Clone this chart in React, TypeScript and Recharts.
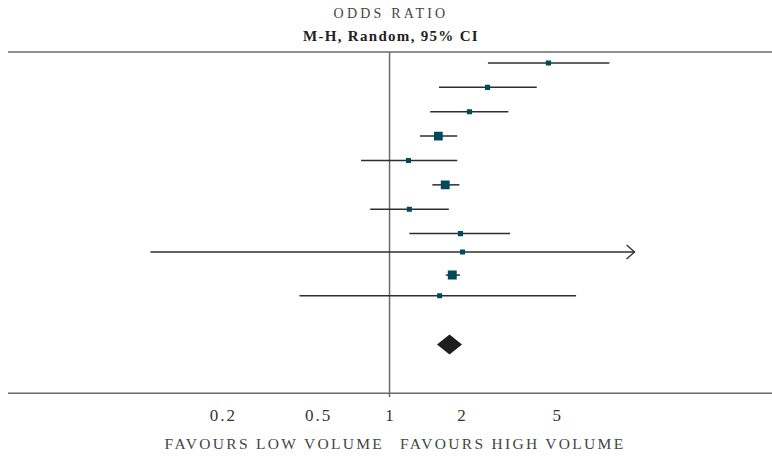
import React from 'react';
import {
  ScatterChart,
  Scatter,
  XAxis,
  YAxis,
  ZAxis,
  ReferenceLine,
  ReferenceArea,
} from 'recharts';

// Per-study odds ratios with 95% CI (M-H, random effects) and weights (%)
const oddsRatio = [4.62, 2.57, 2.16, 1.6, 1.2, 1.71, 1.21, 1.98, 2.02, 1.83, 1.62];
const ciLower = [2.58, 1.61, 1.48, 1.34, 0.76, 1.51, 0.83, 1.21, 0.1, 1.72, 0.42];
const ciUpper = [8.31, 4.13, 3.14, 1.92, 1.92, 1.96, 1.77, 3.19, 40.8, 1.97, 6.03];
const weight = [5.3, 5.4, 5.5, 18.9, 5.2, 19.3, 5.3, 5.4, 5.0, 19.6, 5.1];
// Vertical slot of each study row on the plot
const rowSlot = [0.45, 1.45, 2.45, 3.45, 4.45, 5.45, 6.45, 7.45, 8.2, 9.15, 10.0];

// Pooled estimate
const pooledOr = 1.78;
const pooledLower = 1.58;
const pooledUpper = 2.01;
const pooledSlot = 12.0;

const xTicks = [0.2, 0.5, 1, 2, 5];
// CI whiskers are truncated to this range; overflow gets an arrow
const ciLimits = [0.1, 10];

const FONT = "'Liberation Serif', 'Times New Roman', serif";
const LINE = '#2e2e2e';
const AXIS = '#6b6b6b';
const SQUARE = '#004b5a';

const rows = oddsRatio.map((or, i) => ({
  or,
  lower: ciLower[i],
  upper: ciUpper[i],
  w: weight[i],
  row: rowSlot[i],
}));

const AxisTick = (props: any) => {
  const { x, y, payload } = props;
  return (
    <text
      x={x + 1}
      y={y + 28}
      textAnchor="middle"
      fontFamily={FONT}
      fontSize={17}
      letterSpacing={2}
      fill="#333"
    >
      {payload.value}
    </text>
  );
};

const makeWhisker = (overLeft: boolean, overRight: boolean) => (props: any) => {
  const { x1, y1, x2, y2 } = props;
  const tip = 6;
  const l = overLeft ? x1 - tip : x1;
  const r = overRight ? x2 + tip : x2;
  return (
    <g>
      <line x1={l} y1={y1} x2={r} y2={y2} stroke={LINE} strokeWidth={1.5} />
      {overRight && (
        <polyline
          points={`${r - 8},${y2 - 7} ${r},${y2} ${r - 8},${y2 + 7}`}
          fill="none"
          stroke={LINE}
          strokeWidth={1.3}
        />
      )}
      {overLeft && (
        <polyline
          points={`${l + 8},${y1 - 7} ${l},${y1} ${l + 8},${y1 + 7}`}
          fill="none"
          stroke={LINE}
          strokeWidth={1.3}
        />
      )}
    </g>
  );
};

// Pooled-effect diamond spanning the pooled CI, apex at the pooled estimate
const Diamond = (props: any) => {
  const { x, y, width, height } = props;
  const cx = x + width / 2;
  const cy = y + height / 2;
  return (
    <polygon
      points={`${x},${cy} ${cx},${y} ${x + width},${cy} ${cx},${y + height}`}
      fill="#1e1e1e"
    />
  );
};

export default function App() {
  return (
    <div style={{ position: 'absolute', left: 0, top: 0, width: 772, height: 456 }}>
      <svg
        width={772}
        height={60}
        style={{ position: 'absolute', left: 0, top: 0 }}
      >
        <text
          x={391}
          y={18}
          textAnchor="middle"
          fontFamily={FONT}
          fontSize={14}
          letterSpacing={3.2}
          fill="#444"
        >
          ODDS RATIO
        </text>
        <text
          x={391}
          y={41}
          textAnchor="middle"
          fontFamily={FONT}
          fontSize={15}
          fontWeight="bold"
          letterSpacing={1.3}
          fill="#222"
        >
          M-H, Random, 95% CI
        </text>
      </svg>
      <div style={{ position: 'absolute', left: 0, top: 0 }}>
        <ScatterChart
          width={772}
          height={456}
          margin={{ top: 52, right: 0, bottom: 12.7, left: 8 }}
        >
          <XAxis
            type="number"
            dataKey="or"
            scale="log"
            domain={[0.02535, 39.8]}
            allowDataOverflow
            ticks={xTicks}
            interval={0}
            height={50}
            tickLine={false}
            tickSize={0}
            tickMargin={0}
            axisLine={{ stroke: AXIS, strokeWidth: 1.5 }}
            tick={<AxisTick />}
          />
          <YAxis type="number" dataKey="row" domain={[0, 14]} reversed hide allowDataOverflow />
          <ZAxis type="number" dataKey="w" domain={[5, 20]} range={[25, 81]} />
          <ReferenceLine y={0} stroke={AXIS} strokeWidth={1.5} />
          <ReferenceLine
            segment={[
              { x: 1, y: 0 },
              { x: 1, y: 14.15 },
            ]}
            stroke={AXIS}
            strokeWidth={1.5}
            ifOverflow="visible"
          />
          {rows.map((r, i) => {
            const lo = Math.max(r.lower, ciLimits[0]);
            const hi = Math.min(r.upper, ciLimits[1]);
            return (
              <ReferenceLine
                key={i}
                segment={[
                  { x: lo, y: r.row },
                  { x: hi, y: r.row },
                ]}
                ifOverflow="visible"
                shape={makeWhisker(r.lower < ciLimits[0], r.upper > ciLimits[1])}
              />
            );
          })}
          <ReferenceArea
            x1={pooledLower}
            x2={pooledUpper}
            y1={pooledSlot - 0.41}
            y2={pooledSlot + 0.41}
            ifOverflow="visible"
            shape={Diamond}
          />
          <Scatter
            data={rows}
            shape="square"
            fill={SQUARE}
            isAnimationActive={false}
          />
        </ScatterChart>
      </div>
      <svg
        width={772}
        height={40}
        style={{ position: 'absolute', left: 0, top: 416 }}
      >
        <text
          x={384}
          y={33}
          textAnchor="end"
          fontFamily={FONT}
          fontSize={15.5}
          letterSpacing={2.3}
          fill="#444"
        >
          FAVOURS LOW VOLUME
        </text>
        <text
          x={400}
          y={33}
          textAnchor="start"
          fontFamily={FONT}
          fontSize={15.5}
          letterSpacing={2.3}
          fill="#444"
        >
          FAVOURS HIGH VOLUME
        </text>
      </svg>
    </div>
  );
}
